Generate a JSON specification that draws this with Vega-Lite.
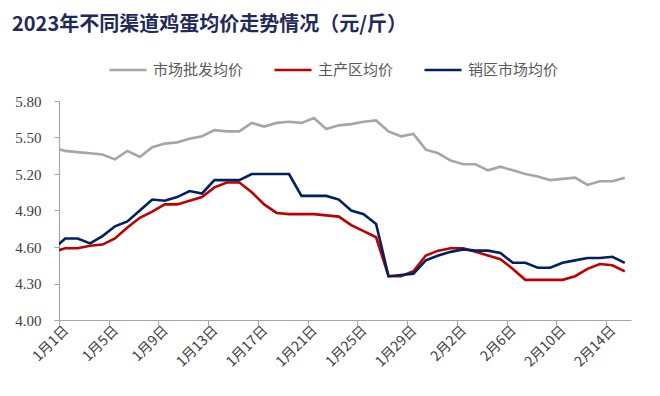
{
  "$schema": "https://vega.github.io/schema/vega-lite/v6.json",
  "width": 572,
  "height": 219,
  "autosize": {"type": "none"},
  "padding": {"left": 59, "top": 101, "right": 29, "bottom": 76},
  "background": "white",
  "title": {
    "text": "2023年不同渠道鸡蛋均价走势情况（元/斤）",
    "anchor": "start",
    "frame": "group",
    "dx": -47,
    "offset": 15,
    "font": "Noto Sans CJK SC",
    "fontSize": 20,
    "fontWeight": "bold",
    "color": "#1F2A5C"
  },
  "config": {
    "view": {"stroke": null},
    "axis": {"grid": false}
  },
  "data": {
    "values": [
      {"date": "2022-12-31", "市场批发均价": 5.42, "主产区均价": 4.56, "销区市场均价": 4.58},
      {"date": "2023-01-01", "市场批发均价": 5.39, "主产区均价": 4.59, "销区市场均价": 4.67},
      {"date": "2023-01-02", "市场批发均价": 5.38, "主产区均价": 4.59, "销区市场均价": 4.67},
      {"date": "2023-01-03", "市场批发均价": 5.37, "主产区均价": 4.61, "销区市场均价": 4.63},
      {"date": "2023-01-04", "市场批发均价": 5.36, "主产区均价": 4.62, "销区市场均价": 4.69},
      {"date": "2023-01-05", "市场批发均价": 5.32, "主产区均价": 4.67, "销区市场均价": 4.77},
      {"date": "2023-01-06", "市场批发均价": 5.39, "主产区均价": 4.76, "销区市场均价": 4.81},
      {"date": "2023-01-07", "市场批发均价": 5.34, "主产区均价": 4.84, "销区市场均价": 4.90},
      {"date": "2023-01-08", "市场批发均价": 5.42, "主产区均价": 4.89, "销区市场均价": 4.99},
      {"date": "2023-01-09", "市场批发均价": 5.45, "主产区均价": 4.95, "销区市场均价": 4.98},
      {"date": "2023-01-10", "市场批发均价": 5.46, "主产区均价": 4.95, "销区市场均价": 5.01},
      {"date": "2023-01-11", "市场批发均价": 5.49, "主产区均价": 4.98, "销区市场均价": 5.06},
      {"date": "2023-01-12", "市场批发均价": 5.51, "主产区均价": 5.01, "销区市场均价": 5.04},
      {"date": "2023-01-13", "市场批发均价": 5.56, "主产区均价": 5.09, "销区市场均价": 5.15},
      {"date": "2023-01-14", "市场批发均价": 5.55, "主产区均价": 5.13, "销区市场均价": 5.15},
      {"date": "2023-01-15", "市场批发均价": 5.55, "主产区均价": 5.13, "销区市场均价": 5.15},
      {"date": "2023-01-16", "市场批发均价": 5.62, "主产区均价": 5.05, "销区市场均价": 5.20},
      {"date": "2023-01-17", "市场批发均价": 5.59, "主产区均价": 4.95, "销区市场均价": 5.20},
      {"date": "2023-01-18", "市场批发均价": 5.62, "主产区均价": 4.88, "销区市场均价": 5.20},
      {"date": "2023-01-19", "市场批发均价": 5.63, "主产区均价": 4.87, "销区市场均价": 5.20},
      {"date": "2023-01-20", "市场批发均价": 5.62, "主产区均价": 4.87, "销区市场均价": 5.02},
      {"date": "2023-01-21", "市场批发均价": 5.66, "主产区均价": 4.87, "销区市场均价": 5.02},
      {"date": "2023-01-22", "市场批发均价": 5.57, "主产区均价": 4.86, "销区市场均价": 5.02},
      {"date": "2023-01-23", "市场批发均价": 5.60, "主产区均价": 4.85, "销区市场均价": 4.99},
      {"date": "2023-01-24", "市场批发均价": 5.61, "主产区均价": 4.78, "销区市场均价": 4.90},
      {"date": "2023-01-25", "市场批发均价": 5.63, "主产区均价": 4.73, "销区市场均价": 4.87},
      {"date": "2023-01-26", "市场批发均价": 5.64, "主产区均价": 4.68, "销区市场均价": 4.79},
      {"date": "2023-01-27", "市场批发均价": 5.55, "主产区均价": 4.36, "销区市场均价": 4.36},
      {"date": "2023-01-28", "市场批发均价": 5.51, "主产区均价": 4.36, "销区市场均价": 4.37},
      {"date": "2023-01-29", "市场批发均价": 5.53, "主产区均价": 4.40, "销区市场均价": 4.38},
      {"date": "2023-01-30", "市场批发均价": 5.40, "主产区均价": 4.53, "销区市场均价": 4.49},
      {"date": "2023-01-31", "市场批发均价": 5.37, "主产区均价": 4.57, "销区市场均价": 4.53},
      {"date": "2023-02-01", "市场批发均价": 5.31, "主产区均价": 4.59, "销区市场均价": 4.56},
      {"date": "2023-02-02", "市场批发均价": 5.28, "主产区均价": 4.59, "销区市场均价": 4.58},
      {"date": "2023-02-03", "市场批发均价": 5.28, "主产区均价": 4.56, "销区市场均价": 4.57},
      {"date": "2023-02-04", "市场批发均价": 5.23, "主产区均价": 4.53, "销区市场均价": 4.57},
      {"date": "2023-02-05", "市场批发均价": 5.26, "主产区均价": 4.50, "销区市场均价": 4.55},
      {"date": "2023-02-06", "市场批发均价": 5.23, "主产区均价": 4.42, "销区市场均价": 4.47},
      {"date": "2023-02-07", "市场批发均价": 5.20, "主产区均价": 4.33, "销区市场均价": 4.47},
      {"date": "2023-02-08", "市场批发均价": 5.18, "主产区均价": 4.33, "销区市场均价": 4.43},
      {"date": "2023-02-09", "市场批发均价": 5.15, "主产区均价": 4.33, "销区市场均价": 4.43},
      {"date": "2023-02-10", "市场批发均价": 5.16, "主产区均价": 4.33, "销区市场均价": 4.47},
      {"date": "2023-02-11", "市场批发均价": 5.17, "主产区均价": 4.36, "销区市场均价": 4.49},
      {"date": "2023-02-12", "市场批发均价": 5.11, "主产区均价": 4.42, "销区市场均价": 4.51},
      {"date": "2023-02-13", "市场批发均价": 5.14, "主产区均价": 4.46, "销区市场均价": 4.51},
      {"date": "2023-02-14", "市场批发均价": 5.14, "主产区均价": 4.45, "销区市场均价": 4.52},
      {"date": "2023-02-15", "市场批发均价": 5.17, "主产区均价": 4.40, "销区市场均价": 4.47}
    ]
  },
  "transform": [
    {"fold": ["市场批发均价", "主产区均价", "销区市场均价"], "as": ["series", "price"]}
  ],
  "mark": {"type": "line", "strokeWidth": 2.6, "clip": true, "strokeJoin": "miter"},
  "encoding": {
    "x": {
      "field": "date",
      "type": "temporal",
      "scale": {
        "type": "utc",
        "domain": [
          {"year": 2022, "month": 12, "date": 31, "hours": 12, "utc": true},
          {"year": 2023, "month": 2, "date": 15, "hours": 12, "utc": true}
        ]
      },
      "axis": {
        "title": null,
        "values": [
          {"year": 2022, "month": 12, "date": 31, "hours": 12, "utc": true},
          {"year": 2023, "month": 1, "date": 4, "hours": 12, "utc": true},
          {"year": 2023, "month": 1, "date": 8, "hours": 12, "utc": true},
          {"year": 2023, "month": 1, "date": 12, "hours": 12, "utc": true},
          {"year": 2023, "month": 1, "date": 16, "hours": 12, "utc": true},
          {"year": 2023, "month": 1, "date": 20, "hours": 12, "utc": true},
          {"year": 2023, "month": 1, "date": 24, "hours": 12, "utc": true},
          {"year": 2023, "month": 1, "date": 28, "hours": 12, "utc": true},
          {"year": 2023, "month": 2, "date": 1, "hours": 12, "utc": true},
          {"year": 2023, "month": 2, "date": 5, "hours": 12, "utc": true},
          {"year": 2023, "month": 2, "date": 9, "hours": 12, "utc": true},
          {"year": 2023, "month": 2, "date": 13, "hours": 12, "utc": true}
        ],
        "labelExpr": "utcFormat(+datum.value + 43200000, '%-m月%-d日')",
        "labelAngle": -45,
        "labelAlign": "right",
        "labelBaseline": "middle",
        "labelFont": "Noto Sans CJK SC",
        "labelFontSize": 14,
        "labelColor": "#404040",
        "labelPadding": 3,
        "labelOffset": 7,
        "labelOverlap": false,
        "labelFlush": false,
        "domainColor": "#A6A6A6",
        "domainWidth": 1.2,
        "tickColor": "#A6A6A6",
        "tickSize": 5,
        "grid": false
      }
    },
    "y": {
      "field": "price",
      "type": "quantitative",
      "scale": {"domain": [4.0, 5.8], "nice": false, "zero": false},
      "axis": {
        "title": null,
        "values": [4.0, 4.3, 4.6, 4.9, 5.2, 5.5, 5.8],
        "format": ".2f",
        "labelFont": "Liberation Serif",
        "labelFontSize": 15,
        "labelColor": "#404040",
        "labelPadding": 13,
        "domainColor": "#A6A6A6",
        "domainWidth": 1.2,
        "tickColor": "#A6A6A6",
        "tickSize": 5,
        "grid": false
      }
    },
    "color": {
      "field": "series",
      "type": "nominal",
      "scale": {
        "domain": ["市场批发均价", "主产区均价", "销区市场均价"],
        "range": ["#A6A6A6", "#C00000", "#002060"]
      },
      "legend": {
        "title": null,
        "orient": "none",
        "direction": "horizontal",
        "legendX": 49,
        "legendY": -51,
        "symbolType": "stroke",
        "symbolSize": 1369,
        "symbolStrokeWidth": 2.6,
        "labelFont": "Noto Sans CJK SC",
        "labelFontSize": 15,
        "labelColor": "#595959",
        "labelOffset": 5,
        "columnPadding": 25
      }
    }
  }
}
